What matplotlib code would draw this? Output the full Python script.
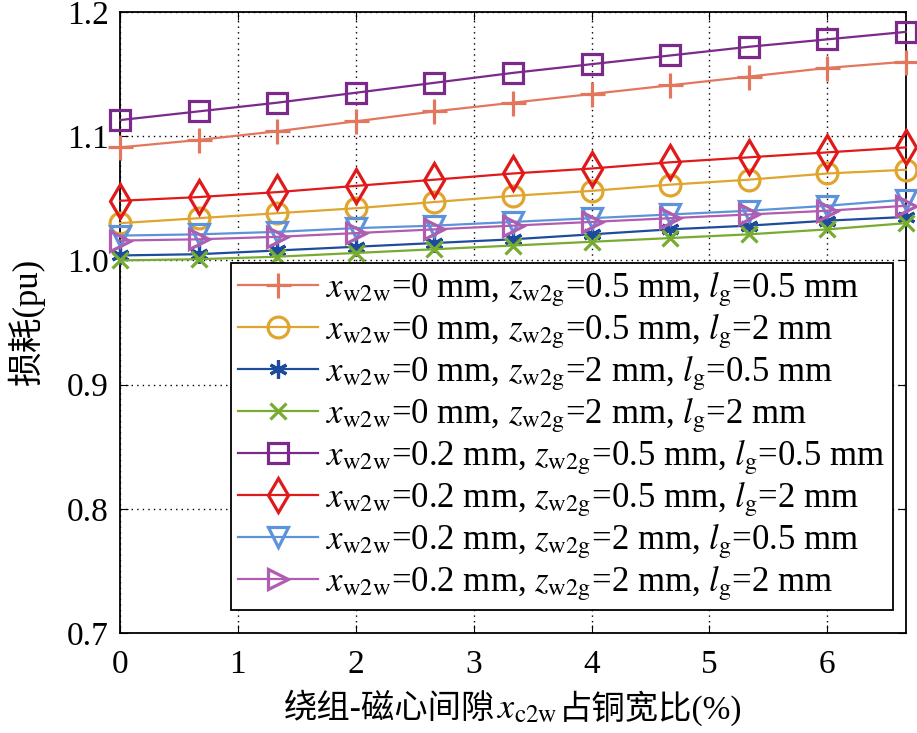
import matplotlib
matplotlib.use("Agg")
import matplotlib.pyplot as plt
from matplotlib.offsetbox import TextArea, HPacker, AnchoredOffsetbox

plt.rcParams['font.family'] = ['Liberation Serif', 'Noto Sans CJK SC', 'DejaVu Sans']
plt.rcParams['mathtext.fontset'] = 'stix'

## x positions: copper-width ratio (%)
x_ratio = [0, 2/3, 4/3, 2, 8/3, 10/3, 4, 14/3, 16/3, 6, 20/3]

## loss (pu)
loss_a = [1.091, 1.097, 1.104, 1.112, 1.120, 1.127, 1.134, 1.141, 1.148, 1.155, 1.160]
loss_b = [1.030, 1.034, 1.038, 1.042, 1.047, 1.052, 1.056, 1.061, 1.065, 1.070, 1.073]
loss_c = [1.004, 1.005, 1.008, 1.011, 1.014, 1.017, 1.021, 1.025, 1.028, 1.032, 1.035]
loss_d = [1.000, 1.001, 1.003, 1.006, 1.009, 1.012, 1.015, 1.018, 1.021, 1.025, 1.030]
loss_e = [1.113, 1.120, 1.127, 1.135, 1.143, 1.151, 1.158, 1.165, 1.172, 1.178, 1.184]
loss_f = [1.048, 1.051, 1.055, 1.060, 1.065, 1.070, 1.074, 1.079, 1.083, 1.087, 1.091]
loss_g = [1.020, 1.021, 1.023, 1.026, 1.028, 1.031, 1.034, 1.037, 1.040, 1.044, 1.049]
loss_h = [1.016, 1.017, 1.019, 1.022, 1.025, 1.028, 1.031, 1.034, 1.037, 1.040, 1.044]

labels = [
  r'$x_{\rm w2w}$=0 mm, $z_{\rm w2g}$=0.5 mm, $l_{\rm g}$=0.5 mm',
  r'$x_{\rm w2w}$=0 mm, $z_{\rm w2g}$=0.5 mm, $l_{\rm g}$=2 mm',
  r'$x_{\rm w2w}$=0 mm, $z_{\rm w2g}$=2 mm, $l_{\rm g}$=0.5 mm',
  r'$x_{\rm w2w}$=0 mm, $z_{\rm w2g}$=2 mm, $l_{\rm g}$=2 mm',
  r'$x_{\rm w2w}$=0.2 mm, $z_{\rm w2g}$=0.5 mm, $l_{\rm g}$=0.5 mm',
  r'$x_{\rm w2w}$=0.2 mm, $z_{\rm w2g}$=0.5 mm, $l_{\rm g}$=2 mm',
  r'$x_{\rm w2w}$=0.2 mm, $z_{\rm w2g}$=2 mm, $l_{\rm g}$=0.5 mm',
  r'$x_{\rm w2w}$=0.2 mm, $z_{\rm w2g}$=2 mm, $l_{\rm g}$=2 mm',
]

series = [loss_a, loss_b, loss_c, loss_d, loss_e, loss_f, loss_g, loss_h]
colors = ['#E2775E', '#E0A52E', '#1D4C9C', '#77AC30', '#7B2A8C', '#E01A1A', '#5C93DB', '#B05CB0']
markers = ['+', 'o', (6, 2, 0), 'x', 's', 'd', 'v', '>']
msizes = [18, 15, 13, 12, 14, 17, 15, 15]

fig = plt.figure(figsize=(9.17, 7.33), dpi=100)
ax = fig.add_axes([0.1309, 0.1364, 0.857, 0.8472])

for yy, c, m, ms, lab in zip(series, colors, markers, msizes, labels):
  ax.plot(x_ratio, yy, color=c, marker=m, markersize=ms, markerfacecolor='none',
          markeredgewidth=2.3, linewidth=1.6, label=lab, clip_on=False, zorder=3)

ax.set_xlim([0., 20/3])
ax.set_ylim([0.7, 1.2])
ax.set_xticks(range(0, 7))
ax.set_yticks([0.7, 0.8, 0.9, 1.0, 1.1, 1.2])
ax.set_yticklabels(['0.7', '0.8', '0.9', '1.0', '1.1', '1.2'])
ax.grid(True, color='black', linestyle=(0, (1, 3)), linewidth=1.0)
ax.tick_params(direction='in', labelsize=24, top=True, right=True, length=6)
ax.tick_params(axis='x', pad=12)
ax.tick_params(axis='y', pad=8)
for s in ax.spines.values():
  s.set_linewidth(1.3)

ax.set_ylabel('损耗(pu)', fontsize=25, labelpad=16)

## x label: CJK text and mathtext pieces packed side by side
fs = 24
parts = [TextArea('绕组-磁心间隙', textprops=dict(fontsize=fs)),
         TextArea(r'$x_{\rm c2w}$', textprops=dict(fontsize=fs + 2)),
         TextArea('占铜宽比(%)', textprops=dict(fontsize=fs))]
pack = HPacker(children=parts, align='baseline', pad=0, sep=1)
xlab = AnchoredOffsetbox(loc='upper center', child=pack, frameon=False, pad=0, borderpad=0,
                         bbox_to_anchor=(0.5, -0.092), bbox_transform=ax.transAxes)
ax.add_artist(xlab)

leg = ax.legend(loc='lower right', bbox_to_anchor=(0.983, 0.037), fontsize=25,
                frameon=True, fancybox=False, edgecolor='black', framealpha=1.0,
                handlelength=2.3, labelspacing=0.08, borderpad=0.2, handletextpad=0.25,
                borderaxespad=0)
leg.get_frame().set_linewidth(1.3)

plt.savefig('out.png', dpi=100)
